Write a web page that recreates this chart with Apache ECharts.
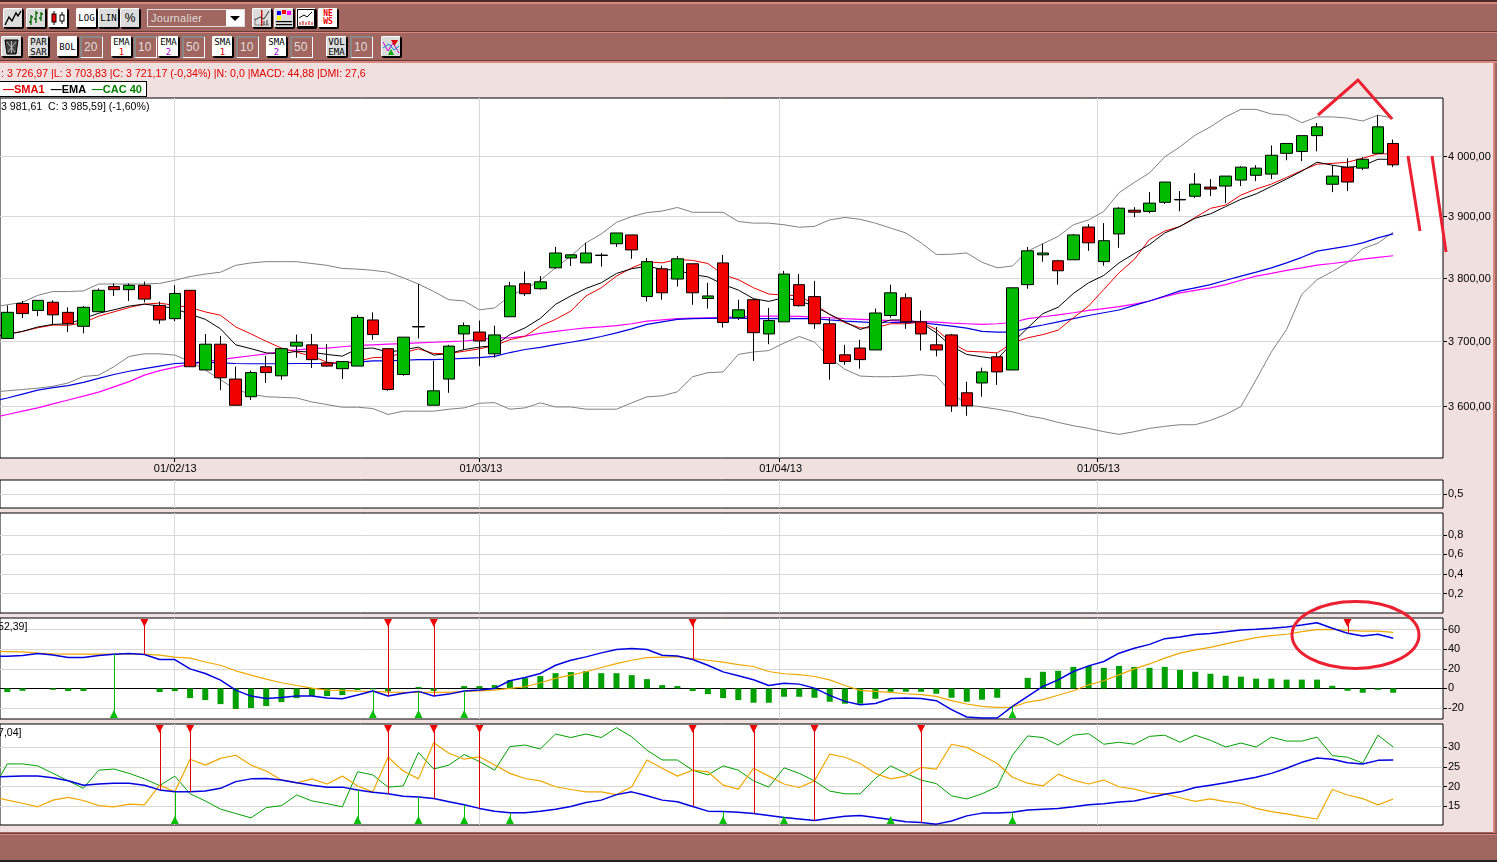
<!DOCTYPE html>
<html><head><meta charset="utf-8">
<style>
html,body{margin:0;padding:0;width:1497px;height:862px;overflow:hidden;background:#F0E0E0;font-family:"Liberation Sans",Arial,sans-serif}
#chart{position:absolute;left:0;top:0;width:1497px;height:862px}
.abs{position:absolute;box-sizing:border-box}
.btn{position:absolute;box-sizing:border-box;border:1px solid #000;border-top-color:#fff;border-left-color:#fff;border-radius:2px;background:#DCDCDC;box-shadow:1px 1px 0 #000;text-align:center;font:9px/10px "DejaVu Sans Mono",monospace;color:#000;display:flex;flex-direction:column;align-items:center;justify-content:center;overflow:hidden}
.btn.on{background:#fff}
.box{position:absolute;box-sizing:border-box;border:1px solid #fff;border-top:2px solid #888;border-left:2px solid #888;background:#A1665F;color:#ddd;font:12px/18px "Liberation Sans",Arial;padding-left:2px}
.t{position:absolute;white-space:pre;font-size:10.6px;line-height:13px}
</style></head><body>
<div id="chart"></div>
<div id="chrome"></div>
<script src="https://cdn.jsdelivr.net/npm/echarts@6/dist/echarts.min.js"></script>
<script>
// ---------- data ----------
const open=[3704,3759,3748,3761,3745,3723,3746,3786,3781,3788,3756,3735,3780,3655,3695,3641,3614,3660,3646,3692,3694,3666,3657,3661,3733,3688,3648,3722.6,3601,3641,3711,3714,3680,3738,3790.5,3782.5,3816,3832,3824,3836,3855,3869.4,3770,3814.5,3798,3822.6,3767,3824,3736.5,3765,3711,3730,3789,3770,3727,3678.5,3689,3686,3740,3768,3730,3694,3709.5,3620,3635,3675.4,3655,3789,3837,3827.4,3829,3882.3,3826,3871,3910,3908,3923,3927,3933,3948.3,3950,3960,3968,3970,4005,4008,4035,3953,3981.7,3980,4005,4021.7];
const close=[3745,3743,3764,3741,3727,3753,3780,3781,3788,3766,3733,3775,3660,3695,3643,3601,3651,3651,3688,3698,3671,3661,3668,3737,3710,3625,3706,3722,3623,3692,3724,3700,3709.5,3787,3774.6,3793.5,3840,3837,3840,3836.6,3872.6,3845,3826,3776,3830.6,3776,3771,3729,3749,3713,3732,3806,3755.5,3727,3665,3668,3671,3744,3776,3730,3711,3686,3600,3600,3652,3652,3784,3843.5,3840,3811.3,3869.4,3856.5,3860,3913.3,3906.7,3921.7,3956.7,3927.8,3953.3,3945,3966.7,3981.7,3980,4001.7,4021.7,4035,4050,3966.7,3956.7,3995,4050,3985.59];
const low=[3704,3736,3739,3725,3714,3712,3746,3771,3763,3761,3727,3731,3660,3655,3624,3601,3609,3635,3640,3674,3658,3660,3641,3661,3702,3623,3646,3704,3601,3620,3686,3661,3674,3738,3771,3781,3814.5,3819,3824,3818,3850,3830.6,3762,3765,3786,3757,3751,3721,3733,3669,3695,3730,3754,3719,3640,3663,3657,3686,3736.5,3719,3685,3676,3591,3585,3614,3632,3655,3782.5,3825.8,3789,3829,3843.5,3819.4,3848.4,3898.4,3905,3920,3908.3,3930,3933.3,3921.7,3950,3958.3,3961.7,3993.3,3991.7,4008.3,3940,3941.7,3976.7,4005,3981.7];
const high=[3756,3763,3764,3764,3753,3755,3783,3791,3791,3794,3762,3788,3780,3711,3708,3660,3654,3677,3688,3710,3711,3695,3668,3741,3745,3688,3706,3790,3669,3694,3729,3732,3724,3793.5,3810,3803,3850,3838,3856.5,3840,3872.6,3869.4,3832,3819.4,3835,3822.6,3792,3837,3765,3767,3752,3811,3806,3795,3736.5,3694,3702,3751,3789,3775,3748,3722,3711,3637,3658.5,3681.5,3784,3849.8,3855,3829,3871,3887,3888.7,3915,3915,3940,3956.7,3941.7,3971.7,3961.7,3966.7,3983.3,3985,4018.3,4021.7,4035,4056.7,3985,3996.7,3998.3,4070,4028.3];
const smaShort=[3711,3715,3720.7,3725,3724.5,3728.7,3739,3745.7,3752.7,3758,3759.6,3756,3752.7,3745.7,3740.4,3722,3711,3699.5,3689,3682.6,3676.4,3667,3665,3668.7,3674,3675,3681.5,3687.7,3680.5,3680.5,3684,3687.7,3693,3702,3707.4,3723.3,3734,3747,3771,3784,3802.7,3816,3825.8,3824,3829.5,3828,3823,3805,3797,3784,3774,3772.6,3771,3757.7,3741.8,3728.6,3720.6,3720.6,3727,3727,3729.6,3718,3697,3684,3683,3681.5,3697,3705,3710,3717,3736.5,3755,3781.5,3808,3829.6,3862,3875.6,3883.3,3898,3913,3918.5,3935,3945,3953.3,3964.4,3976,3986.7,3988,3990,3996.7,4004,4004];
const emaShort=[3710,3715,3722,3726,3727,3735,3743.6,3749,3755,3758,3755,3751,3742,3734,3719,3694,3688,3681.5,3680,3684,3682.6,3679,3676.4,3688,3689,3682.6,3686,3690.4,3678,3680.5,3686.7,3690.4,3692.8,3710,3720.6,3735.5,3757.7,3771,3783,3792,3807,3814.5,3818.8,3813.4,3812.4,3805,3801.6,3789.4,3780.4,3766.7,3762.4,3768.3,3763,3755,3741.8,3730,3718,3726,3733,3733,3728.6,3712.7,3691.8,3679,3675.4,3672,3697,3720.6,3743,3753,3775,3792,3803.8,3824,3839,3853.8,3872.6,3883.3,3896.8,3904,3916,3928,3937,3949.4,3961.7,3975,3990,3985,3981,3984,3995,3995];
const emaLong=[3612,3618,3624,3628,3631,3636,3642,3648,3653,3657,3661,3665,3666,3667,3666,3665,3664.6,3664.6,3664.6,3665,3665,3665,3666,3667,3669,3669,3670,3671,3671,3672,3673,3674,3676,3682,3686.7,3690,3694.4,3698,3702,3707,3712.7,3719,3726,3730,3733.9,3735,3735.5,3736,3735.8,3735,3735,3735.4,3735.2,3735,3733,3731.2,3730,3728.6,3729,3729.6,3728.6,3726,3723.3,3720,3715,3714,3714,3720.6,3725,3730,3735,3740,3744.4,3748.7,3756,3763,3771,3779,3784,3789,3796,3802.7,3809,3816,3824,3833,3843,3847,3851,3856.5,3864.5,3871];
const smaLong=[3587,3592,3597,3603,3609,3615,3621,3629,3637,3647,3654,3659,3664,3668,3671,3674,3677,3680,3684,3686,3688,3689,3691,3693,3694,3695,3696,3697,3698,3699,3700,3702,3705,3705,3707.5,3712,3715,3718,3720.6,3722,3724,3727,3731,3733,3735,3736,3736.5,3737,3738,3738.5,3739,3739,3738.5,3737.5,3736.5,3735,3734,3733,3732,3731,3730.5,3729.6,3728,3727,3726,3727,3729,3735,3738,3741,3744.4,3748,3751,3754,3758,3763,3770,3776,3780,3784,3789,3796,3802.7,3807,3812,3816,3820.4,3823,3826,3830,3833,3835.5];
const bollUpper=[3757,3761,3772,3778,3778,3779,3790,3790,3790,3790,3791,3796,3802,3806,3809,3820,3824,3826,3826,3826,3823,3820,3815,3814,3812,3809,3800,3790,3778,3765,3763,3749,3752,3771,3782,3796,3816,3835,3856.5,3871,3890,3899.5,3906,3908.6,3914.5,3906.5,3906.5,3906.5,3891.4,3888.7,3888.7,3886,3882,3883.4,3894,3898,3895,3888.7,3880.6,3872.6,3856.5,3837.6,3838,3840,3825,3816,3819,3843,3855,3867,3886,3894,3908,3939,3956,3972,3999,4016,4036,4050,4067,4080,4080,4072,4070,4057,4067,4067,4065,4060,4070,4065];
const bollLower=[3623,3625,3627,3630,3635,3645,3647,3660,3676,3680,3680,3678,3668,3655,3640,3625,3618,3614,3613,3612,3606,3602,3598,3598,3596,3587,3592,3592,3592,3595,3597,3604,3605,3595,3597,3604.6,3598.4,3598.4,3595,3595,3595,3604.6,3613.8,3615.4,3621.5,3644.6,3650.8,3652,3679,3683,3685,3696.8,3707,3698.4,3673.8,3656,3645.6,3644.6,3644.6,3645.6,3647.7,3645.6,3620,3601.5,3598.4,3595,3591,3585,3581,3575,3570,3566,3561,3557,3561,3566,3569,3571.5,3571.5,3578,3587,3599,3640,3683,3718,3773.5,3797,3810,3824.6,3847,3856,3874];
const macdHist=[-3.7,-2.4,0,-1.4,-2.7,-2.7,0,0,0,0,-3.7,-2.7,-9.9,-11.9,-16,-21,-20,-18,-14,-9.9,-7.8,-7.8,-6.8,-1.7,-1,-3,0,1.4,-2.5,0,2.4,2.4,3.4,8.5,10.5,12.6,15.6,16.7,17.7,15.6,15.6,13.6,9.5,3.4,2.4,-2.7,-5.8,-9.9,-11.9,-14.6,-14.6,-8.5,-8.5,-9.5,-13.6,-15.6,-15.6,-10.5,-3.4,-3.4,-3.4,-5.4,-9.5,-13.6,-11.5,-9.5,0,10.8,17,18,22,23,21,23,22,21,22,19,17,15,13,12,10,10,9,9,9,2.7,-2.4,-4.4,-1.4,-4.4];
const macdLine=[32.9,33.6,35.6,34.2,31.5,31.5,33.6,34.9,35.6,34.6,29.5,29.5,20,15.3,8.5,-1.7,-7.8,-10.2,-9.2,-7.8,-7.8,-9.8,-10.5,-6.8,-2.7,-7.8,-5,-3,-7.8,-5.8,-2.7,-1.7,0,7.8,11.2,15.3,23.7,28.8,32.2,36.3,39.7,40.7,39.7,33.9,33.2,29.5,23.7,16.9,12.9,8.8,3,5.4,4.4,0.3,-7.1,-13.2,-16.6,-15.3,-10.2,-9.8,-10.2,-12.5,-21.7,-29.2,-30.2,-30.2,-18.3,-8.1,2,8.8,17.3,23,27.5,36,41,45,50.8,52.5,55,56,57.8,59.7,60.3,61.4,62.7,64.7,67,61.4,56.3,53.6,55.3,51.2];
const macdSignal=[37.6,37.3,36,35.3,35,35,35,35,35,35,34,32,31,27,23.7,18,13.6,9.5,5.8,3,0.3,-1.7,-2,-2.7,-3,-3.7,-4,-4,-4,-4,-3,-2.4,-1.7,0,1.7,5.8,10.2,13.6,17,21.4,25.4,28.8,31.5,32,32.5,30.5,28.8,26.8,24.4,22.4,17.3,15,14,12.2,8.8,3,-2,-3,-4,-5.4,-6.4,-8.1,-12.5,-15.9,-18.3,-19.3,-19,-13.9,-11.5,-7,-2.4,3.7,7.8,13.9,20,25,31,36,39.3,42,45.4,48.8,51.9,53.9,55.3,58,60,60.3,59.3,58.6,58.6,57.3];
const diPlus=[25.8,25.8,25.3,23.4,21.5,19.6,24.2,24.5,23.4,22,20.3,22.7,18.2,16.4,14.3,13.2,12.1,14.7,15.2,17.9,16.4,15.7,14.9,23.8,23,19.9,20.2,28.7,24.5,25.5,28.2,26.4,24.2,30.2,30.6,29.6,33.4,32.5,33.4,32.5,35,32.7,29.3,26.8,26.8,24.2,23,25.3,24.2,21.5,19.9,24.8,23.4,21.5,18.9,18.2,18.2,22.1,25.3,23.4,21.7,20.8,17.7,16.9,18.2,20,28,32.9,32.5,30.6,33.1,33.5,30.8,31.3,30.8,32.8,33.1,31.3,33.1,31.8,30.1,31.1,30.1,32.6,31.6,31.6,32.6,27.9,27.5,26,33.1,30.1];
const diMinus=[16.6,15.8,14.9,16.6,17.3,16.5,15.2,14.9,15.6,15.4,20.4,18.7,27,25.5,27.2,28,25.5,24,21.7,21,22,20.7,22.7,20.2,18.7,27.5,24,22,31.2,28.5,27,27.6,25.5,23.4,22.1,21.5,20,19.3,18.7,18.7,18,20,26.8,24.7,22.7,24.2,23.8,20.4,19.4,24.7,22.7,20.7,19.8,21.5,28.3,27.5,25.9,23.4,22,22.7,24.9,24.5,30.8,30,28,25.9,22.4,20.9,20.2,23.2,21.7,20.7,21.7,20,19.4,18.4,18.2,17.2,16.3,16.9,16.2,15.8,14.5,13.7,13.1,12.4,11.8,19.3,17.9,17,15.4,16.9];
const adx=[22.6,22.7,22.7,22.3,21.5,20.4,20.7,20.9,20.9,20.4,19.2,18.7,18.7,18.9,19.6,21.3,22,22.1,21.7,21,20.4,19.9,19.9,19.2,18.6,18.2,17.6,17.4,17,16.2,15.4,14.5,13.8,13.4,13.4,13.8,14.3,15,16,16.6,18,18.7,17.7,16.6,16.2,15,13.8,13.7,13.5,13.2,12.7,12.2,11.8,11.4,12,12.5,12.7,12.2,11.7,11.1,10.9,10.5,11.3,12.6,13.3,13.3,13.5,14.1,14.3,14.5,14.9,15.4,15.7,16.1,16.4,17.2,18.1,18.7,19.8,20.4,21,21.7,22.4,23.4,24.7,26.2,27.3,27,26.1,25.8,26.7,26.8];
// value of each line one session before the first candle (cut by the left edge)
const before={bollUpper:3753,bollLower:3621,smaShort:3706,emaShort:3706,emaLong:3607,smaLong:3582,macdLine:33,macdSignal:37.8,diPlus:19,diMinus:17.5,adx:22.5};
const macdSell=[9,25,28,45,88];
const macdBuy=[7,24,27,30,66];
const dmiSell=[10,12,25,28,31,45,49,53,60];
const dmiBuy=[11,23,27,30,33,47,51,58,66];
const dateTicks=[10.93,31,50.68,71.55];
const dateLabels=['01/02/13','01/03/13','01/04/13','01/05/13'];
const priceTicks=[3600,3700,3800,3900,4000];
const macdTicks=[60,40,20,0,-20];
const dmiTicks=[30,25,20,15];
const panelATicks=[0.5];
const panelBTicks=[0.8,0.6,0.4,0.2];

// ---------- chart ----------
const XMIN=-0.479, XMAX=94.27;
const GRID=[[98,458],[480,508],[513,613],[618,719],[724,825]];
const comma=v=>String(v).replace('.',',');
const price=v=>{const s=v.toFixed(2).replace('.',',');return s.replace(/^(\d)(\d{3})/,'$1 $2');};
const pts=(a,prev)=>{const r=a.map((v,i)=>[i,v]);if(prev!==undefined)r.unshift([-1,prev]);return r;};
const FONT='"Liberation Sans",Arial,sans-serif';
const grid=GRID.map(g=>({left:-1,width:1444,top:g[0],height:g[1]-g[0],show:true,backgroundColor:'#fff',borderColor:'#000',borderWidth:1}));
const xAxis=GRID.map((g,k)=>({type:'value',gridIndex:k,min:XMIN,max:XMAX,position:'bottom',
  axisLine:{show:false,onZero:false},
  axisTick:{show:k===0,customValues:dateTicks,length:4,lineStyle:{color:'#000'}},
  splitLine:{show:true,lineStyle:{color:'#D8D8D8',width:1}},
  axisLabel:{show:k===0,customValues:dateTicks,margin:5,fontSize:11,color:'#000',fontFamily:FONT,hideOverlap:false,padding:[0,0,0,3],
    formatter:v=>{let b=0;dateTicks.forEach((d,j)=>{if(Math.abs(d-v)<Math.abs(dateTicks[b]-v))b=j;});return dateLabels[b];}}}));
function yVal(k,min,max,ticks,fmt){return {type:'value',gridIndex:k,min,max,position:'right',scale:true,
  axisLine:{show:false,onZero:false},axisTick:{show:true,customValues:ticks,length:4,lineStyle:{color:'#000'}},
  splitLine:{show:true,lineStyle:{color:'#D8D8D8',width:1}},
  axisLabel:{show:true,customValues:ticks,margin:5,fontSize:11,color:'#000',fontFamily:FONT,padding:[2,0,0,0],formatter:fmt}};}
const yAxis=[
 {type:'log',gridIndex:0,logBase:10,min:3521.7,max:4099.6,position:'right',axisLine:{show:false,onZero:false},axisTick:{show:false},axisLabel:{show:false},splitLine:{show:false},minorTick:{show:false},minorSplitLine:{show:false}},
 yVal(1,0,1,panelATicks,comma),
 yVal(2,0,1.025,panelBTicks,comma),
 yVal(3,-31.2,71.9,macdTicks,v=>String(v)),
 yVal(4,10.28,35.94,dmiTicks,v=>String(v))
];
function ln(name,arr,prev,k,color,w,z){return {name,type:'line',data:pts(arr,prev),xAxisIndex:k,yAxisIndex:k,symbol:'none',showSymbol:false,smooth:false,z:z||2,lineStyle:{color,width:w},silent:true,animation:false};}
const signalSeries=(k,list,line,dir)=>({type:'custom',xAxisIndex:k,yAxisIndex:k,z:4,silent:true,animation:false,encode:{x:0,y:1},
  data:list.map(i=>[i,line[i]]),
  renderItem:(params,api)=>{
    const p=api.coord([api.value(0),api.value(1)]);const r=params.coordSys;
    const color=dir<0?'#F00000':'#00C000';
    const edge=dir<0?r.y+1:r.y+r.height-1;
    const tip=edge-dir*8;
    return {type:'group',children:[
      {type:'line',shape:{x1:Math.round(p[0])+.5,y1:edge,x2:Math.round(p[0])+.5,y2:p[1]},style:{stroke:dir<0?'#E00000':'#00C000',lineWidth:1}},
      {type:'polygon',shape:{points:[[p[0]-4,edge],[p[0]+4,edge],[p[0],tip]]},style:{fill:color}}
    ]};
  }});
const priceMark={symbol:'none',silent:true,z:1,animation:false,
  label:{show:true,position:'end',distance:5,offset:[0,1],color:'#000',fontSize:11,fontFamily:FONT,formatter:p=>price(p.value)},
  lineStyle:{color:'#D8D8D8',width:1,type:'solid'},
  data:priceTicks.map(v=>({yAxis:v}))};
const priceTickSeries={type:'custom',xAxisIndex:0,yAxisIndex:0,z:4,silent:true,animation:false,encode:{x:0,y:1},
  data:priceTicks.map(v=>[XMAX,v]),
  renderItem:(params,api)=>{const p=api.coord([api.value(0),api.value(1)]);const y=Math.round(p[1])+.5;
    return {type:'line',shape:{x1:p[0],y1:y,x2:p[0]+4,y2:y},style:{stroke:'#000',lineWidth:1}};}};
const series=[
 Object.assign(ln('bollUpper',bollUpper,before.bollUpper,0,'#808080',1,2),{markLine:priceMark}),
 ln('bollLower',bollLower,before.bollLower,0,'#808080',1),
 ln('smaLong',smaLong,before.smaLong,0,'#FF00FF',1.2),
 ln('emaLong',emaLong,before.emaLong,0,'#0000E0',1.2),
 ln('SMA1',smaShort,before.smaShort,0,'#E80000',1),
 ln('EMA',emaShort,before.emaShort,0,'#000',1),
 {type:'candlestick',name:'CAC 40',xAxisIndex:0,yAxisIndex:0,z:3,barWidth:12,silent:true,animation:false,
  data:open.map((o,i)=>[i,o,close[i],low[i],high[i]]),
  itemStyle:{color:'#00BB00',color0:'#F00000',borderColor:'#000',borderColor0:'#000',borderWidth:1}},
 priceTickSeries,
 {type:'bar',name:'hist',xAxisIndex:3,yAxisIndex:3,data:pts(macdHist),barWidth:6,z:1,silent:true,animation:false,itemStyle:{color:'#00A000'},
  markLine:{symbol:'none',silent:true,z:1,animation:false,label:{show:false},lineStyle:{color:'#000',width:1,type:'solid'},data:[{yAxis:0}]}},
 ln('macdSignal',macdSignal,before.macdSignal,3,'#F0A800',1.2),
 ln('macd',macdLine,before.macdLine,3,'#0000E0',1.5),
 signalSeries(3,macdSell,macdLine,-1),
 signalSeries(3,macdBuy,macdLine,1),
 ln('diPlus',diPlus,before.diPlus,4,'#00A000',1),
 ln('diMinus',diMinus,before.diMinus,4,'#F0A800',1.2),
 ln('adx',adx,before.adx,4,'#0000E0',1.5),
 signalSeries(4,dmiSell,adx,-1),
 signalSeries(4,dmiBuy,adx,1)
];
const pen={stroke:'#EC2030',lineWidth:3,fill:null};
const graphic=[
 {type:'polyline',z:100,shape:{points:[[1318,115],[1358,80],[1392,119]]},style:pen},
 {type:'polyline',z:100,shape:{points:[[1408,156],[1420,231]]},style:pen},
 {type:'polyline',z:100,shape:{points:[[1432,156],[1446,252]]},style:pen},
 {type:'ellipse',z:100,shape:{cx:1355.5,cy:635,rx:63.5,ry:33.5},style:pen}
];
const chart=echarts.init(document.getElementById('chart'),null,{renderer:'canvas'});
chart.setOption({animation:false,backgroundColor:'transparent',grid,xAxis,yAxis,series,graphic});

// ---------- window frame around the chart ----------
const ICON={
 line:'<svg width="18" height="16"><polyline points="1,15 5,7 8,11 12,3 14,6 17,1" fill="none" stroke="#000" stroke-width="1.4"/></svg>',
 bars:'<svg width="18" height="16"><path d="M4 5V15M2 12H4M4 7H6M9 1V13M7 9H9M9 3H11M14 2V11M12 8H14M14 4H16" stroke="#060" stroke-width="1.3" fill="none"/></svg>',
 cand:'<svg width="18" height="16"><path d="M5 1V15M13 2V14" stroke="#000"/><rect x="3" y="4" width="4" height="8" fill="#f00" stroke="#000"/><rect x="11" y="5" width="4" height="6" fill="#fff" stroke="#000"/></svg>',
 ind:'<svg width="18" height="18"><path d="M2 16H16M2 16V9" stroke="#888"/><rect x="8" y="1" width="1.4" height="16" fill="#c00"/><polyline points="2,11 7,8 11,10 16,2" fill="none" stroke="#333"/><path d="M11 16V12M14 16V11" stroke="#333"/></svg>',
 pal:'<svg width="18" height="18"><rect x="2" y="2" width="4" height="4" fill="#00f"/><rect x="7" y="1" width="4" height="4" fill="#f00"/><rect x="12" y="2" width="4" height="4" fill="#f0f"/><rect x="2" y="7" width="4" height="4" fill="#ff0"/><rect x="1" y="12" width="16" height="1.2" fill="#000"/><rect x="1" y="15" width="16" height="1.2" fill="#000"/></svg>',
 vol:'<svg width="18" height="18"><rect x=".5" y=".5" width="17" height="17" fill="#fff" stroke="#000"/><polyline points="2,9 7,6 10,8 15,3" fill="none" stroke="#000"/><path d="M3 16V13M6 16V12M9 16V13M12 16V12M15 16V13" stroke="#c00"/></svg>',
 bin:'<svg width="15" height="17"><path d="M1 2H14L12 16H3Z" fill="#444" stroke="#000"/><path d="M3 4L11 14M12 4L4 14M7.5 3V15" stroke="#bbb"/></svg>',
 dmi:'<svg width="18" height="18"><polyline points="1,4 6,13 11,5 17,15" fill="none" stroke="#c0c"/><polyline points="1,10 7,6 12,12 17,8" fill="none" stroke="#08c"/><path d="M9 2H16L12.5 8Z" fill="#d00"/><path d="M6 17L9 11L12 17Z" fill="#0a0"/></svg>'
};
let h='';
const band=(x,y,w,ht,c)=>{h+=`<div class="abs" style="left:${x}px;top:${y}px;width:${w}px;height:${ht}px;background:${c}"></div>`;};
band(0,0,1497,63,'#A1665F');band(0,0,1497,2,'#4A2A28');band(0,2,1497,2,'#D98880');band(0,31,1497,1,'#6A3A36');band(0,32,1497,1,'#D98880');band(0,60,1497,1,'#6A3A36');band(0,61,1497,2,'#D98880');
band(0,832,1497,30,'#A1665F');band(0,833,1497,1,'#6A3A36');band(0,834,1497,1,'#D98880');band(0,860,1497,2,'#222');
band(1495,63,2,769,'#A1665F');band(1493,63,2,770,'#D98880');
const btn=(x,y,w,ht,c,on)=>{h+=`<div class="btn${on?' on':''}" style="left:${x}px;top:${y}px;width:${w}px;height:${ht}px">${c}</div>`;};
const box=(x,y,w,t)=>{h+=`<div class="box" style="left:${x}px;top:${y}px;width:${w}px;height:22px">${t}</div>`;};
btn(3,8,20,20,ICON.line);btn(26,8,20,20,ICON.bars);btn(48,8,20,20,ICON.cand,1);
btn(76,8,21,20,'LOG',1);btn(98,8,21,20,'LIN');btn(120,8,20,20,'<span style="font-size:12px;font-family:\'Liberation Sans\'">%</span>');
h+=`<div class="abs" style="left:147px;top:9px;width:98px;height:18px;border:1px solid #ddd;background:#A1665F;color:#ddd;font:11px/16px 'Liberation Sans';padding-left:3px;letter-spacing:.3px">Journalier<div class="abs" style="right:0;top:0;width:18px;height:16px;background:#fff"><div class="abs" style="left:4px;top:6px;width:0;height:0;border:5px solid transparent;border-top:5px solid #000"></div></div></div>`;
btn(252,8,20,20,ICON.ind);btn(274,8,20,20,ICON.pal);btn(296,8,20,20,ICON.vol);
btn(318,8,20,20,'<span style="color:#e00;font-size:8px;line-height:8px;font-weight:bold">NE<br>WS</span>',1);
const R=36,H=21;
btn(1,R,21,H,ICON.bin);
btn(28,R,21,H,'PAR<br>SAR');btn(57,R,21,H,'BOL',1);box(80,R,23,'20');
btn(111,R,21,H,'EMA<br><span style="color:#e00">1</span>',1);box(134,R,23,'10');
btn(158,R,21,H,'EMA<br><span style="color:#a0c">2</span>',1);box(182,R,23,'50');
btn(212,R,21,H,'SMA<br><span style="color:#e00">1</span>',1);box(236,R,23,'10');
btn(266,R,21,H,'SMA<br><span style="color:#a0c">2</span>',1);box(290,R,23,'50');
btn(326,R,21,H,'VOL<br>EMA');box(350,R,23,'10');
btn(381,R,20,H,ICON.dmi);
h+=`<div class="t" style="left:1px;top:67px;color:#E00000">: 3 726,97 |L: 3 703,83 |C: 3 721,17 (-0,34%) |N: 0,0 |MACD: 44,88 |DMI: 27,6</div>`;
h+=`<div class="abs" style="left:-1px;top:81px;width:148px;height:16px;border:1px solid #000;background:#fff;font:bold 11px/14px 'Liberation Sans';white-space:pre;padding-left:3px"><span style="color:#E00000">—SMA1</span>  <span>—EMA</span>  <span style="color:#008000">—CAC 40</span></div>`;
h+=`<div class="t" style="left:1px;top:100px;color:#000">3 981,61  C: 3 985,59] (-1,60%)</div>`;
h+=`<div class="t" style="left:-2px;top:620px;color:#000">52,39]</div>`;
h+=`<div class="t" style="left:-2px;top:726px;color:#000">7,04]</div>`;
document.getElementById('chrome').innerHTML=h;
</script>
</body></html>
